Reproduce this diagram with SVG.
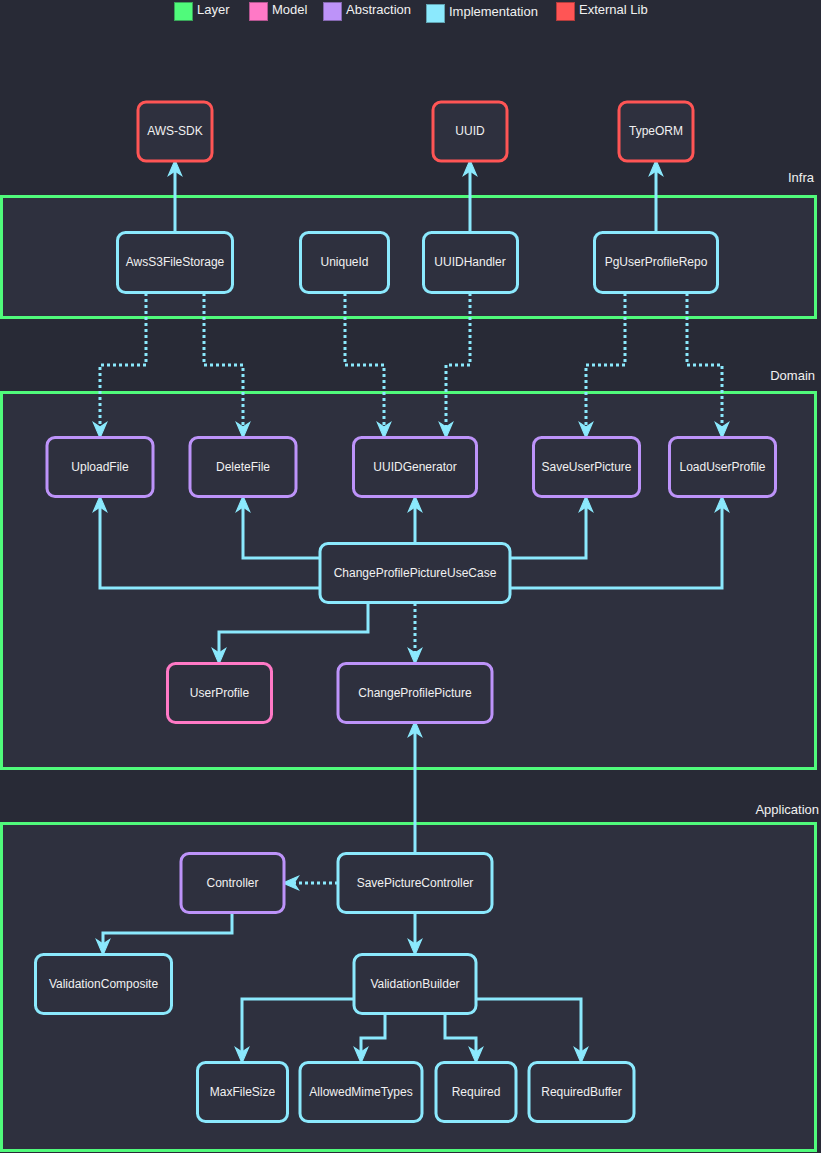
<svg xmlns="http://www.w3.org/2000/svg" width="821" height="1153" viewBox="0 0 821 1153">
<style>
text{font-family:"Liberation Sans",Arial,sans-serif;fill:#f1f1f1}
.n text{font-size:12px;text-anchor:middle;dominant-baseline:central}
.n rect{fill:#2e303e;stroke-width:3}
.impl rect{stroke:#8be9fd}
.abs rect{stroke:#bd93f9}
.mod rect{stroke:#ff79c6}
.ext rect{stroke:#ff5555}
.layer{fill:#2e303e;stroke:#50fa7b;stroke-width:3}
.lbl{font-size:13px;text-anchor:end}
.leg{font-size:13px}
#edges path{fill:none;stroke:#8be9fd;stroke-width:3;marker-end:url(#ar)}
#edges path.d{stroke-dasharray:3 3}
</style>
<defs>
<marker id="ar" markerUnits="userSpaceOnUse" markerWidth="20" markerHeight="20" viewBox="-2 -8 18 16" refX="4" refY="0" orient="auto">
<path d="M0,-6 L14,0 L0,6 L4,0 Z" fill="#8be9fd" stroke="#8be9fd" stroke-width="1"/>
</marker>
</defs>
<rect width="821" height="1153" fill="#282a36"/>
<g id="legend">
<rect x="174.5" y="2.5" width="18" height="18" fill="#50fa7b" stroke="#3aa55a"/>
<text class="leg" x="197" y="14">Layer</text>
<rect x="249.5" y="2.5" width="18" height="18" fill="#ff79c6" stroke="#b45590"/>
<text class="leg" x="272" y="14">Model</text>
<rect x="323.5" y="2.5" width="18" height="18" fill="#bd93f9" stroke="#8468b0"/>
<text class="leg" x="346" y="14">Abstraction</text>
<rect x="426.5" y="4.5" width="18" height="18" fill="#8be9fd" stroke="#62a4b3"/>
<text class="leg" x="449" y="16">Implementation</text>
<rect x="556.5" y="2.5" width="18" height="18" fill="#ff5555" stroke="#b43c3c"/>
<text class="leg" x="579" y="14">External Lib</text>
</g>
<g id="layer-infra">
<rect class="layer" x="1.5" y="196.5" width="814" height="121"/>
<text class="lbl" x="814" y="182">Infra</text>
</g>
<g id="layer-domain">
<rect class="layer" x="1.5" y="392.5" width="814" height="376"/>
<text class="lbl" x="815" y="380">Domain</text>
</g>
<g id="layer-application">
<rect class="layer" x="1.5" y="823.5" width="814" height="327"/>
<text class="lbl" x="819" y="814">Application</text>
</g>
<g id="edges">
<path d="M175,232 V171"/>
<path d="M470,232 V171"/>
<path d="M656,232 V171"/>
<path class="d" d="M146,293 V365 H100 V427"/>
<path class="d" d="M204,293 V365 H243 V427"/>
<path class="d" d="M345,293 V365 H384 V427"/>
<path class="d" d="M470,293 V365 H446 V427"/>
<path class="d" d="M625,293 V365 H586 V427"/>
<path class="d" d="M687,293 V365 H722 V427"/>
<path d="M320,588 H100 V507"/>
<path d="M320,558 H243 V507"/>
<path d="M415,543 V507"/>
<path d="M510,558 H586 V507"/>
<path d="M510,588 H722 V507"/>
<path d="M368,603 V632 H219 V653"/>
<path class="d" d="M415,603 V653"/>
<path d="M415,853 V732"/>
<path class="d" d="M338,883 H294"/>
<path d="M232,913 V933 H103 V944"/>
<path d="M415,913 V944"/>
<path d="M354,999 H242 V1052"/>
<path d="M385,1014 V1038 H361 V1052"/>
<path d="M445,1014 V1038 H476 V1052"/>
<path d="M476,999 H581 V1052"/>
</g>
<g id="aws-sdk" class="n ext"><rect x="138" y="102" width="74" height="59" rx="8"/><text x="175" y="131">AWS-SDK</text></g>
<g id="uuid" class="n ext"><rect x="433" y="102" width="74" height="59" rx="8"/><text x="470" y="131">UUID</text></g>
<g id="typeorm" class="n ext"><rect x="619" y="102" width="74" height="59" rx="8"/><text x="656" y="131">TypeORM</text></g>
<g id="awss3filestorage" class="n impl"><rect x="117.5" y="232.5" width="115" height="60" rx="8"/><text x="175" y="262">AwsS3FileStorage</text></g>
<g id="uniqueid" class="n impl"><rect x="300.5" y="232.5" width="88" height="60" rx="8"/><text x="344.5" y="262">UniqueId</text></g>
<g id="uuidhandler" class="n impl"><rect x="423.5" y="232.5" width="94" height="60" rx="8"/><text x="470" y="262">UUIDHandler</text></g>
<g id="pguserprofilerepo" class="n impl"><rect x="594.5" y="232.5" width="123" height="60" rx="8"/><text x="656" y="262">PgUserProfileRepo</text></g>
<g id="uploadfile" class="n abs"><rect x="47" y="437.5" width="106" height="59" rx="8"/><text x="100" y="467">UploadFile</text></g>
<g id="deletefile" class="n abs"><rect x="190" y="437.5" width="106" height="59" rx="8"/><text x="243" y="467">DeleteFile</text></g>
<g id="uuidgenerator" class="n abs"><rect x="353.5" y="437.5" width="123" height="59" rx="8"/><text x="415" y="467">UUIDGenerator</text></g>
<g id="saveuserpicture" class="n abs"><rect x="533.5" y="437.5" width="106" height="59" rx="8"/><text x="586.5" y="467">SaveUserPicture</text></g>
<g id="loaduserprofile" class="n abs"><rect x="669.5" y="437.5" width="106" height="59" rx="8"/><text x="722.5" y="467">LoadUserProfile</text></g>
<g id="changeprofilepictureusecase" class="n impl"><rect x="320" y="543.5" width="190" height="59" rx="8"/><text x="415" y="573">ChangeProfilePictureUseCase</text></g>
<g id="userprofile" class="n mod"><rect x="167.5" y="663.5" width="104" height="59" rx="8"/><text x="219.5" y="693">UserProfile</text></g>
<g id="changeprofilepicture" class="n abs"><rect x="338" y="663.5" width="154" height="59" rx="8"/><text x="415" y="693">ChangeProfilePicture</text></g>
<g id="controller" class="n abs"><rect x="181" y="853.5" width="103" height="59" rx="8"/><text x="232.5" y="883">Controller</text></g>
<g id="savepicturecontroller" class="n impl"><rect x="338" y="853.5" width="154" height="59" rx="8"/><text x="415" y="883">SavePictureController</text></g>
<g id="validationcomposite" class="n impl"><rect x="35.5" y="954.5" width="136" height="59" rx="8"/><text x="103.5" y="984">ValidationComposite</text></g>
<g id="validationbuilder" class="n impl"><rect x="354" y="954.5" width="122" height="59" rx="8"/><text x="415" y="984">ValidationBuilder</text></g>
<g id="maxfilesize" class="n impl"><rect x="197.5" y="1062.5" width="90" height="59" rx="8"/><text x="242.5" y="1092">MaxFileSize</text></g>
<g id="allowedmimetypes" class="n impl"><rect x="300" y="1062.5" width="122" height="59" rx="8"/><text x="361" y="1092">AllowedMimeTypes</text></g>
<g id="required" class="n impl"><rect x="436" y="1062.5" width="80" height="59" rx="8"/><text x="476" y="1092">Required</text></g>
<g id="requiredbuffer" class="n impl"><rect x="529" y="1062.5" width="105" height="59" rx="8"/><text x="581.5" y="1092">RequiredBuffer</text></g>
</svg>
